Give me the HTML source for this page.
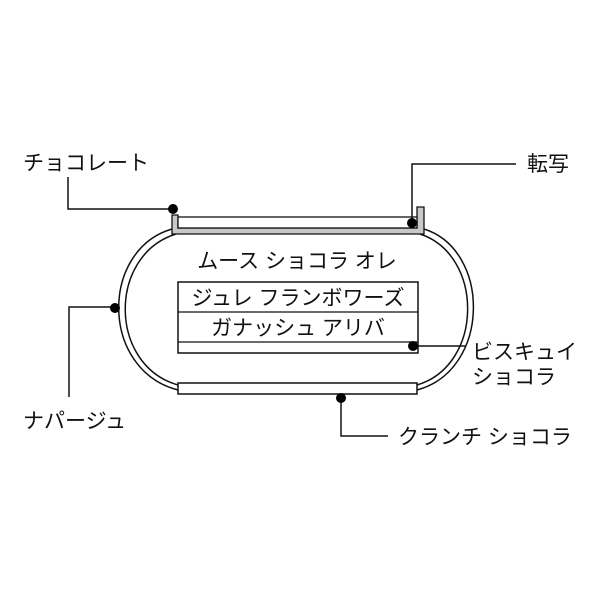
<!DOCTYPE html><html><head><meta charset="utf-8"><style>body{margin:0;background:#fff}svg{display:block}text{font-family:"Liberation Sans","Noto Sans CJK JP",sans-serif;font-size:21px;fill:#111}</style></head><body>
<svg width="600" height="600" viewBox="0 0 600 600">
<g fill="none" stroke="#111" stroke-width="1.5">
<path d="M172 229 C100 250,100 370,178 390"/>
<path d="M176 234 C108 255,108 365,178 385"/>
<path d="M424 229 C491 250,491 370,417 390"/>
<path d="M420 234 C484 255,484 365,417 385"/>
</g>
<path d="M172 215 H178 V228 H417 V207 H424 V234 H172 Z" fill="#c8c8c8" stroke="#111" stroke-width="1.3"/>
<rect x="178" y="217" width="239" height="11" fill="#fff" stroke="#111" stroke-width="1.3"/>
<rect x="178" y="383" width="239" height="11" fill="#fff" stroke="#111" stroke-width="1.5"/>
<rect x="178" y="282" width="240" height="71" fill="#fff" stroke="#111" stroke-width="1.5"/>
<line x1="178" y1="312" x2="418" y2="312" stroke="#111" stroke-width="1.3"/>
<line x1="178" y1="342" x2="418" y2="342" stroke="#111" stroke-width="1.3"/>
<text x="297" y="268" text-anchor="middle">ムース ショコラ オレ</text>
<text x="298" y="305" text-anchor="middle">ジュレ フランボワーズ</text>
<text x="298" y="335" text-anchor="middle">ガナッシュ アリバ</text>
<g fill="none" stroke="#111" stroke-width="1.5">
<polyline points="68,177 68,209 173,209"/>
<polyline points="516,164 412,164 412,223"/>
<polyline points="69,397 69,307 115,307"/>
<polyline points="413,346 465,346"/>
<polyline points="341,398 341,436 388,436"/>
</g>
<g fill="#000"><circle cx="173" cy="209" r="5"/><circle cx="412" cy="223" r="5"/><circle cx="115" cy="308" r="5"/><circle cx="413" cy="346" r="5"/><circle cx="341" cy="398" r="5"/></g>
<text x="23" y="170">チョコレート</text>
<text x="527" y="171">転写</text>
<text x="23" y="428">ナパージュ</text>
<text x="472" y="359">ビスキュイ</text>
<text x="472" y="384">ショコラ</text>
<text x="398" y="444">クランチ ショコラ</text>
</svg></body></html>
